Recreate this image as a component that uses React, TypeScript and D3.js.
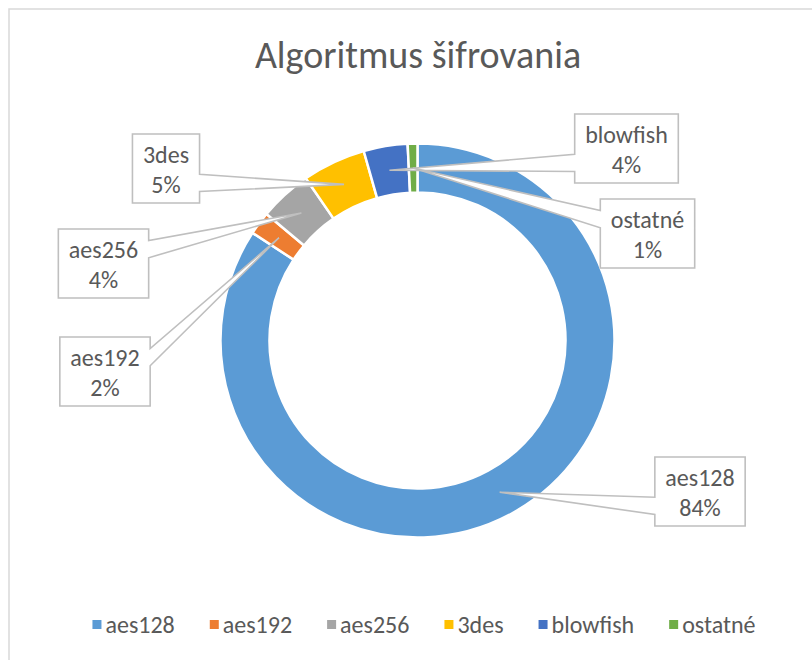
import React, { useEffect, useRef } from 'react'
import * as d3 from 'd3'

// chart data (percent of connections)
const categories = ['aes128', 'aes192', 'aes256', '3des', 'blowfish', 'ostatné']
const shares = [84.2, 1.9, 4.3, 5.2, 3.6, 0.8]
const sliceColors = ['#5B9BD5', '#ED7D31', '#A5A5A5', '#FFC000', '#4472C4', '#70AD47']
const chartTitle = 'Algoritmus šifrovania'

// where the callout boxes sit (box centre), same order as categories
const calloutPos: [number, number][] = [
    [700, 491.5],
    [105, 371.5],
    [103.5, 263.5],
    [166, 168.5],
    [626.5, 148.5],
    [647.5, 233.5],
]

const FONT = 'Carlito, Calibri, Lato, sans-serif'
const TEXT = '#595959'
const LINE = '#BFBFBF'

function calloutPath(cx: number, cy: number, w: number, h: number, tx: number, ty: number) {
    const l = cx - w / 2, r = cx + w / 2, t = cy - h / 2, b = cy + h / 2
    // excel style wedge: base sits high on the side if the tip is above, low if below
    const [f1, f2] = ty < cy ? [2 / 12, 5 / 12] : [7 / 12, 10 / 12]
    if (tx < l) {
        return `M${l},${t}L${r},${t}L${r},${b}L${l},${b}L${l},${t + h * f2}L${tx},${ty}L${l},${t + h * f1}Z`
    }
    return `M${l},${t}L${r},${t}L${r},${t + h * f1}L${tx},${ty}L${r},${t + h * f2}L${r},${b}L${l},${b}Z`
}

export default function App() {
    const ref = useRef<SVGSVGElement>(null)

    useEffect(() => {
        const svg = d3.select(ref.current)
        svg.selectAll('*').remove()

        // chart area border
        svg.append('rect')
            .attr('x', 9).attr('y', 9)
            .attr('width', 840).attr('height', 700)
            .attr('fill', 'white')
            .attr('stroke', '#D9D9D9')
            .attr('stroke-width', 1.5)

        svg.append('text')
            .attr('x', 418).attr('y', 68)
            .attr('text-anchor', 'middle')
            .attr('font-family', FONT)
            .attr('font-size', 38)
            .attr('fill', TEXT)
            .text(chartTitle)

        const cx = 417.5, cy = 340.5
        const g = svg.append('g').attr('transform', `translate(${cx},${cy})`)

        const pie = d3.pie<number>().sort(null).value(d => d)
        const arcs = pie(shares)
        const arc = d3.arc<d3.PieArcDatum<number>>().innerRadius(148).outerRadius(197)

        g.selectAll('path.slice')
            .data(arcs)
            .enter().append('path')
            .attr('class', 'slice')
            .attr('d', arc)
            .attr('fill', (_d, i) => sliceColors[i])
            .attr('stroke', 'white')
            .attr('stroke-width', 2.5)

        // callouts
        const labelSize = 24
        arcs.forEach((a, i) => {
            const [px, py] = arc.centroid(a)
            const tx = px + cx, ty = py + cy
            const [bx, by] = calloutPos[i]
            const grp = svg.append('g')
            const shape = grp.append('path')
            const t1 = grp.append('text')
                .attr('x', bx).attr('y', by - 6)
                .attr('text-anchor', 'middle')
                .attr('font-family', FONT).attr('font-size', labelSize)
                .attr('fill', TEXT)
                .text(categories[i])
            const t2 = grp.append('text')
                .attr('x', bx).attr('y', by + 24)
                .attr('text-anchor', 'middle')
                .attr('font-family', FONT).attr('font-size', labelSize)
                .attr('fill', TEXT)
                .text(Math.round(a.value) + '%')
            const w = Math.max((t1.node() as SVGTextElement).getComputedTextLength(),
                (t2.node() as SVGTextElement).getComputedTextLength()) + 21
            shape.attr('d', calloutPath(bx, by, w, 69, tx, ty))
                .attr('fill', 'white')
                .attr('stroke', LINE)
                .attr('stroke-width', 1.6)
                .attr('stroke-linejoin', 'miter')
        })

        // legend
        const leg = svg.append('g')
        const gap = 35
        let x = 0
        categories.forEach((c, i) => {
            leg.append('rect')
                .attr('x', x).attr('y', 620)
                .attr('width', 9).attr('height', 9)
                .attr('fill', sliceColors[i])
            const t = leg.append('text')
                .attr('x', x + 13).attr('y', 633)
                .attr('font-family', FONT).attr('font-size', labelSize)
                .attr('fill', TEXT)
                .text(c)
            x += 13 + (t.node() as SVGTextElement).getComputedTextLength() + gap
        })
        const total = x - gap
        leg.attr('transform', `translate(${424 - total / 2},0)`)
    }, [])

    return (
        <svg ref={ref} width={812} height={660}
            style={{ position: 'absolute', left: 0, top: 0, background: 'white' }} />
    )
}
